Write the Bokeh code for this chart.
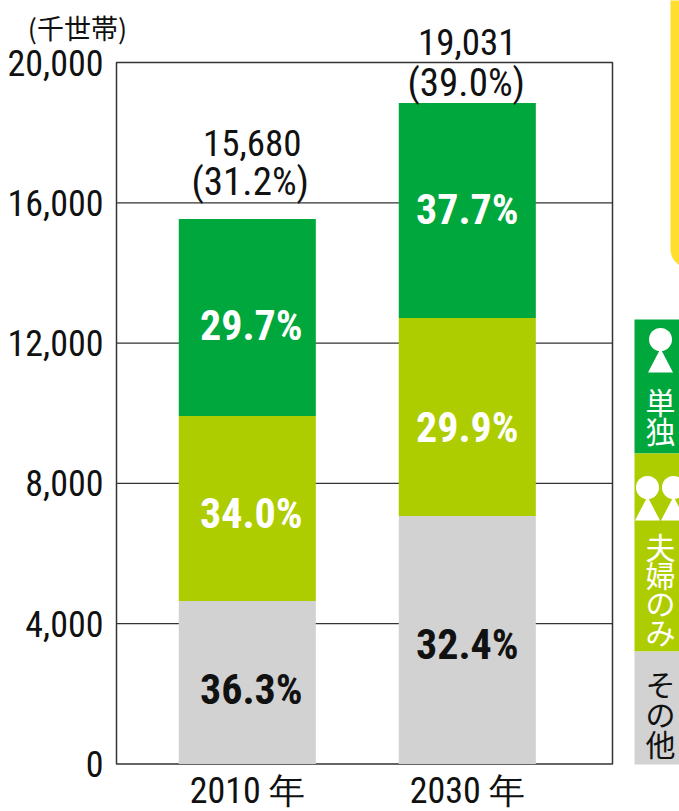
import math
from bokeh.plotting import figure
from bokeh.models import ColumnDataSource, Range1d, FixedTicker
from bokeh.core.properties import value
from bokeh.embed import file_html
from bokeh.resources import INLINE

years = ["2010 年", "2030 年"]
xpos = [0, 1]
other = [4647, 7070]
couple = [5274, 5646]
single = [5617, 6129]
totals = ["15,680", "19,031"]
shares = ["(31.2%)", "(39.0%)"]
pct_other = ["36.3%", "32.4%"]
pct_couple = ["34.0%", "29.9%"]
pct_single = ["29.7%", "37.7%"]
y_pct_other = [2110, 3421]
y_pct_couple = [7156, 9580]
y_pct_single = [12516, 15823]
y_totals = [17706, 20586]
y_shares = [16593, 19415]
y_ticks = [0, 4000, 8000, 12000, 16000, 20000]
grid_ticks = [4000, 8000, 12000, 16000]

GREEN, LIME, GREY, YELLOW = "#00A73C", "#AECD00", "#D2D2D2", "#FFDE2E"
INK = "#111111"
NUM = "Roboto Condensed, Roboto"
CJK = "Noto Sans CJK JP"

W, H = 679, 811
# the frame fills the canvas; these helpers turn picture pixels into range values
PX_X, PX_Y = 220.0, 701.5 / 20000
def X(px): return (px - 246.8) / PX_X
def Y(py): return (763.5 - py) / PX_Y

p = figure(width=W, height=H, output_backend="svg", toolbar_location=None,
           x_range=Range1d(X(0), X(W)), y_range=Range1d(Y(H), Y(0)),
           min_border_left=0, min_border_right=0, min_border_top=0, min_border_bottom=0)
p.background_fill_color = "white"
p.border_fill_color = "white"
p.outline_line_color = None

p.ygrid.visible = False
p.xgrid.visible = False
n = len(grid_ticks)
p.segment(x0=[X(116)] * n, x1=[X(612)] * n, y0=grid_ticks, y1=grid_ticks,
          line_color="#333333", line_width=1.2)
p.quad(left=[X(116)], right=[X(612)], bottom=[0], top=[20000], fill_color=None,
       line_color="#333333", line_width=1.5)

src = ColumnDataSource(dict(x=xpos, other=other, couple=couple, single=single))
p.vbar_stack(["other", "couple", "single"], x="x", width=0.623, source=src,
             color=[GREY, LIME, GREEN], line_width=0)

for ax in (p.xaxis[0], p.yaxis[0]):
    ax.axis_line_color = None
    ax.major_tick_line_color = None
    ax.minor_tick_line_color = None
    ax.major_tick_in = 0
    ax.major_tick_out = 0
    ax.minor_tick_in = 0
    ax.minor_tick_out = 0
    ax.major_label_text_font = NUM
    ax.major_label_text_color = INK
    ax.major_label_text_font_size = "36px"
p.yaxis[0].ticker = FixedTicker(ticks=y_ticks)
p.yaxis[0].major_label_overrides = {t: f"{t:,}" for t in y_ticks}
p.yaxis[0].major_label_standoff = 13
p.yaxis[0].fixed_location = X(116)
p.xaxis[0].ticker = FixedTicker(ticks=xpos)
p.xaxis[0].major_label_overrides = dict(zip(xpos, years))
p.xaxis[0].major_label_standoff = 6
p.xaxis[0].fixed_location = 0


def value_labels(ys, texts, color, size, bold, dx):
    s = ColumnDataSource(dict(x=xpos, y=ys, t=texts, dx=dx))
    p.text(x="x", y="y", text="t", source=s, x_offset="dx", text_align="center",
           text_baseline="middle", text_font=value(NUM), text_font_size=f"{size}px",
           text_font_style="bold" if bold else "normal", text_color=color)


BOLD_DX = [4, 0]
value_labels(y_pct_other, pct_other, INK, 42, True, BOLD_DX)
value_labels(y_pct_couple, pct_couple, "white", 42, True, BOLD_DX)
value_labels(y_pct_single, pct_single, "white", 42, True, BOLD_DX)
value_labels(y_totals, totals, INK, 37, False, [5, 0])
value_labels(y_shares, shares, INK, 39, False, [3, -1])


def text(t, x, y, size=30, color="white"):
    p.text(x=[X(x)], y=[Y(y)], text=[t], text_align="center", text_baseline="middle",
           text_font=value(CJK), text_font_size=f"{size}px", text_color=color)


def band(l, r, t, b, color):
    p.quad(left=[X(l)], right=[X(r)], top=[Y(t)], bottom=[Y(b)], fill_color=color,
           line_width=0, line_color=None)


def person(cx, cy):
    p.scatter(x=[X(cx)], y=[Y(cy)], size=23, marker="circle", fill_color="white", line_color=None)
    p.patch(x=[X(cx), X(cx + 12.5), X(cx - 12.5)], y=[Y(cy + 9), Y(cy + 33), Y(cy + 33)],
            fill_color="white", line_color=None)


# yellow panel at the top right, with a rounded lower-left corner
r = 18
arc = [(670 + r - r * math.cos(a * math.pi / 16), 267 - r + r * math.sin(a * math.pi / 16)) for a in range(0, 9)]
pts = [(670, -5)] + arc + [(685, 267), (685, -5)]
p.patch(x=[X(a) for a, _ in pts], y=[Y(b) for _, b in pts], fill_color=YELLOW, line_color=None)

band(634, 679, 319, 453, GREEN)
band(634, 679, 453, 651, LIME)
band(634, 679, 651, 764, GREY)
person(660, 339)
person(647, 487)
person(673, 487)
text("単", 660, 400)
text("独", 660, 429)
text("夫", 660, 545)
text("婦", 660, 573)
text("の", 660, 601)
text("み", 660, 630)
text("そ", 660, 682, color=INK)
text("の", 660, 712, color=INK)
text("他", 660, 742, color=INK)
text("(千世帯)", 77, 27, size=27, color=INK)

open("out.html", "w").write(file_html(p, INLINE))
